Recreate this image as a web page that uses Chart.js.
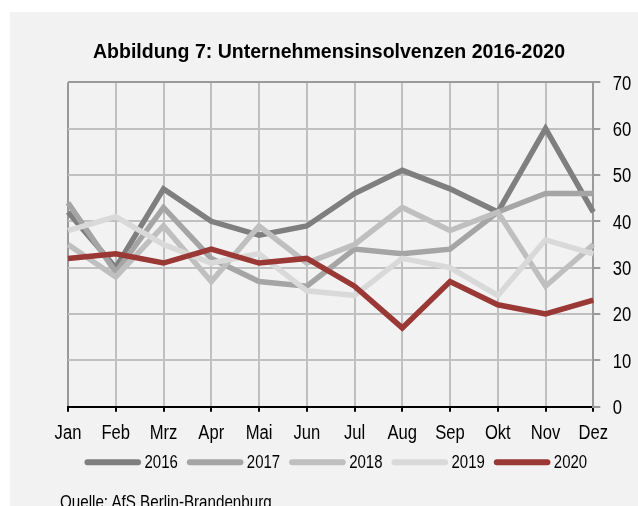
<!DOCTYPE html>
<html>
<head>
<meta charset="utf-8">
<script src="https://cdn.jsdelivr.net/npm/chart.js@4"></script>
<style>
  html, body { margin:0; padding:0; background:#ffffff; width:638px; height:506px; overflow:hidden; }
  #panel { position:absolute; left:10px; top:12px; width:628px; height:494px; background:#f2f2f2; overflow:hidden; }
  #chart { position:absolute; left:0; top:0; }
  #title { position:absolute; left:319px; top:27px; white-space:nowrap;
           transform:translateX(-50%) scaleX(0.93); transform-origin:center top;
           font-family:"Liberation Sans",Arial,sans-serif; font-weight:bold; font-size:21px; line-height:24px; color:#000; }
  #source { position:absolute; left:50px; top:480.6px; white-space:nowrap;
            transform:scaleX(0.82); transform-origin:left top;
            font-family:"Liberation Sans",Arial,sans-serif; font-size:18.5px; line-height:18.5px; color:#000; }
</style>
</head>
<body>
<div id="panel">
  <canvas id="chart" width="628" height="494"></canvas>
  <div id="title">Abbildung 7: Unternehmensinsolvenzen 2016-2020</div>
  <div id="source">Quelle: AfS Berlin-Brandenburg</div>
</div>
<script>
const months = ["Jan","Feb","Mrz","Apr","Mai","Jun","Jul","Aug","Sep","Okt","Nov","Dez"];
const seriesNames = ["2016","2017","2018","2019","2020"];
const v2016 = [42, 30, 47, 40, 37, 39, 46, 51, 47, 42, 60, 42];
const v2017 = [44, 29, 43, 32, 27, 26, 34, 33, 34, 42, 46, 46];
const v2018 = [35, 28, 39, 27, 39, 31, 35, 43, 38, 42, 26, 35];
const v2019 = [38, 41, 35, 31, 33, 25, 24, 32, 30, 24, 36, 33];
const v2020 = [32, 33, 31, 34, 31, 32, 26, 17, 27, 22, 20, 23];
const yTicks = [0, 10, 20, 30, 40, 50, 60, 70];

const colors = ["#7f7f7f", "#a5a5a5", "#bfbfbf", "#d9d9d9", "#993835"];
const values = [v2016, v2017, v2018, v2019, v2020];
const FONT = "'Liberation Sans', Arial, sans-serif";

const datasets = seriesNames.map((name, i) => ({
  label: name,
  data: values[i],
  borderColor: colors[i],
  backgroundColor: colors[i],
  borderWidth: 5.5,
  pointRadius: 0,
  pointHoverRadius: 0,
  tension: 0,
  fill: false,
  order: seriesNames.length - i
}));

function condensedText(ctx, text, x, y, sx, align) {
  const w = ctx.measureText(text).width * sx;
  const left = align === 'center' ? x - w / 2 : (align === 'right' ? x - w : x);
  ctx.save();
  ctx.translate(left, y);
  ctx.scale(sx, 1);
  ctx.textAlign = 'left';
  ctx.textBaseline = 'alphabetic';
  ctx.fillText(text, 0, 0);
  ctx.restore();
  return w;
}

const labelPlugin = {
  id: 'condensedLabels',
  afterDraw(chart) {
    const ctx = chart.ctx;
    const xs = chart.scales.x, ys = chart.scales.y;
    ctx.save();
    ctx.fillStyle = '#000';
    // month labels
    ctx.font = "20px " + FONT;
    months.forEach((m, i) => {
      condensedText(ctx, m, xs.getPixelForValue(i), xs.top + 32.3, 0.83, 'center');
    });
    // y labels
    yTicks.forEach(v => {
      condensedText(ctx, String(v), ys.left + 19.4, ys.getPixelForValue(v) + 7.2, 0.83, 'left');
    });
    // legend
    ctx.font = "18.5px " + FONT;
    const lineLen = 56.6, gapText = 3.4, gapItem = 9, sx = 0.81;
    const widths = chart.data.datasets.map(ds => ctx.measureText(ds.label).width * sx);
    let total = widths.reduce((a, b) => a + b, 0) + chart.data.datasets.length * (lineLen + gapText) + (chart.data.datasets.length - 1) * gapItem;
    let x = 325.8 - total / 2;
    const ly = 450.3, ty = 456.3;
    chart.data.datasets.forEach((ds, i) => {
      ctx.strokeStyle = ds.borderColor;
      ctx.lineWidth = 6;
      ctx.lineCap = 'round';
      ctx.beginPath();
      ctx.moveTo(x + 3, ly);
      ctx.lineTo(x + lineLen - 3, ly);
      ctx.stroke();
      x += lineLen + gapText;
      ctx.fillStyle = '#000';
      condensedText(ctx, ds.label, x, ty, sx, 'left');
      x += widths[i] + gapItem;
    });
    ctx.restore();
  }
};

new Chart(document.getElementById('chart'), {
  type: 'line',
  data: { labels: months, datasets },
  plugins: [labelPlugin],
  options: {
    responsive: false,
    animation: false,
    devicePixelRatio: 1,
    layout: { padding: { left: 58, right: 34, top: 70.3, bottom: 79.3 } },
    plugins: {
      tooltip: { enabled: false },
      title: { display: false },
      legend: { display: false }
    },
    scales: {
      x: {
        offset: false,
        afterFit: (s) => { s.height = 20; },
        grid: {
          color: (c) => c.index === 0 ? '#9a9a9a' : '#c0c0c0',
          lineWidth: 2,
          tickColor: '#000',
          tickLength: 5,
          drawTicks: true
        },
        border: { color: '#000', width: 2 },
        ticks: { display: false, autoSkip: false, maxRotation: 0 }
      },
      y: {
        position: 'right',
        min: 0,
        max: 70,
        afterFit: (s) => { s.width = 10.7; },
        grid: {
          color: (c) => (c.tick && c.tick.value === 70) ? '#9a9a9a' : '#c0c0c0',
          lineWidth: 2,
          tickColor: '#9a9a9a',
          tickLength: 7,
          drawTicks: true
        },
        border: { color: '#9a9a9a', width: 2 },
        ticks: { display: false, stepSize: 10 }
      }
    }
  }
});
</script>
</body>
</html>
